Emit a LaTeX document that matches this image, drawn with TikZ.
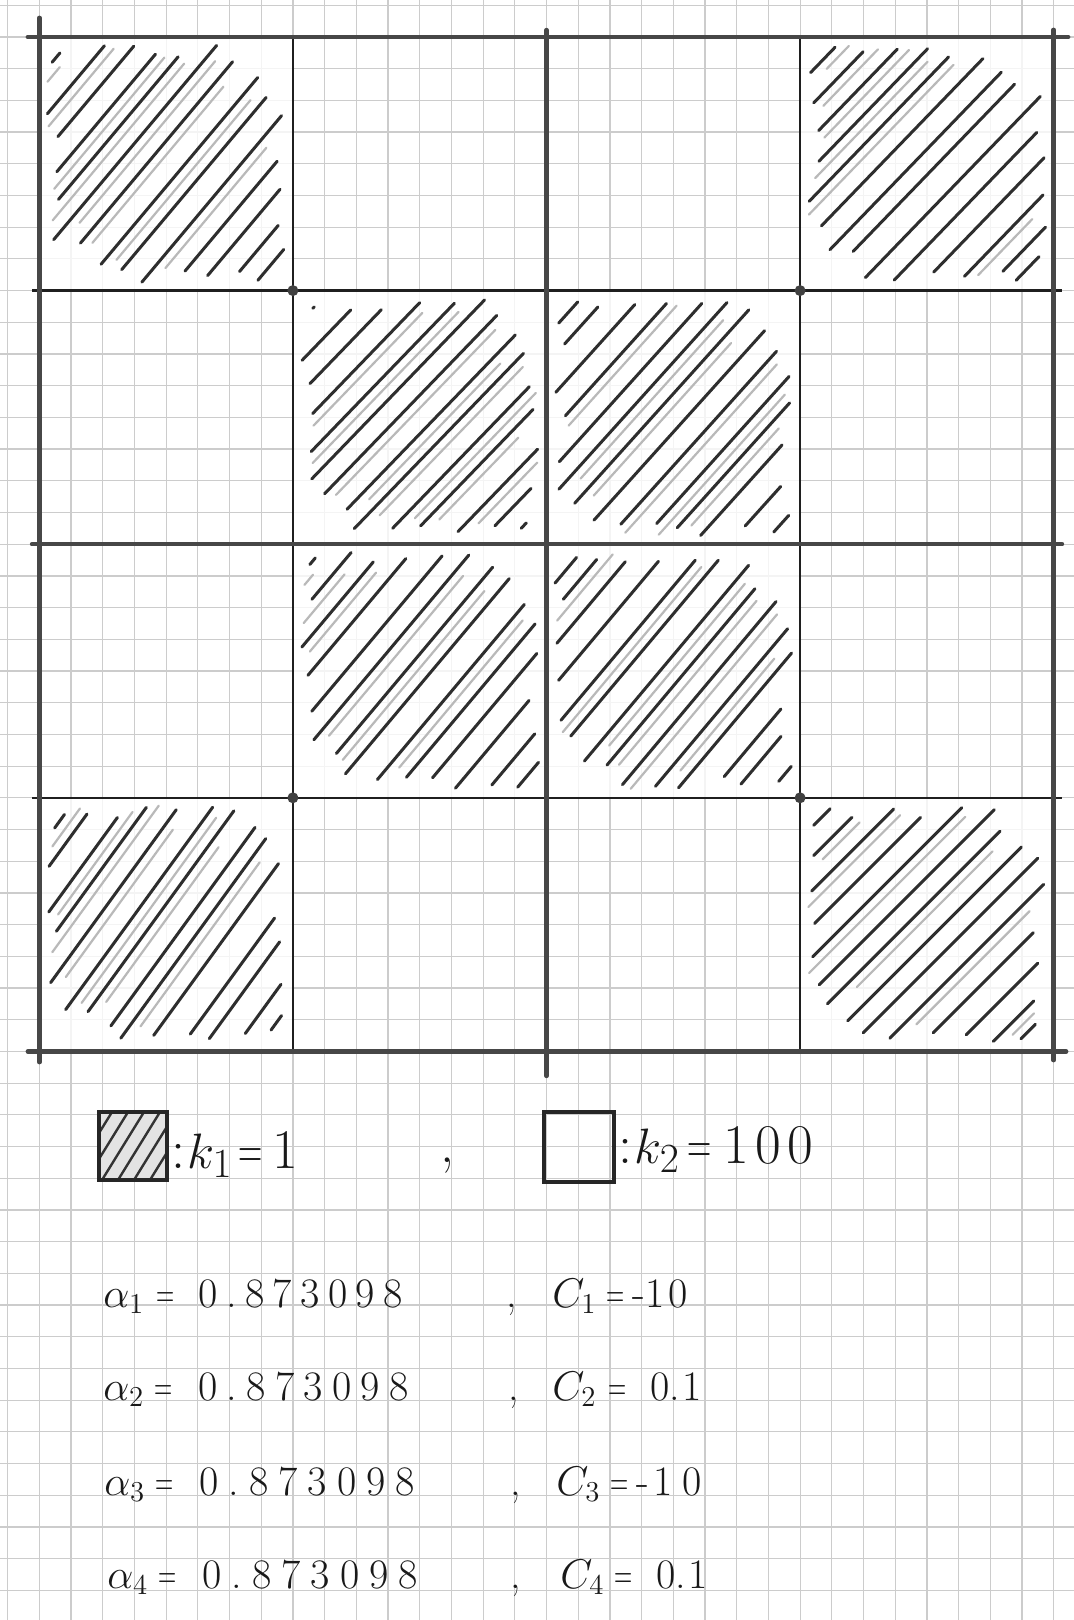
\documentclass[tikz,border=0pt]{standalone}
\usepackage{fontspec}
\usepackage{graphicx}
\usetikzlibrary{calc}
\newcommand\hweq{\scalebox{0.6}[1]{=}}
\newcommand\hnum[2]{% #1 gap, #2 unused
  \def\g{\hspace{#1}}0\g.\g8\g7\g3\g0\g9\g8}
\newcommand\hatchcell[3]{%
 \begin{scope}
  \fill[white,opacity=0.8] ({#1-126},{#2-126}) rectangle ({#1+126},{#2+126});
  \clip ({#1-124},{#2-124}) rectangle ({#1+124},{#2+124});
  \pgfmathsetmacro\hC{cos(#3)}
  \pgfmathsetmacro\hS{sin(#3)}
  \foreach \i in {0,...,13}{
    \pgfmathsetmacro\hT{-150+\i*23+4*rand}
    \pgfmathsetmacro\hA{max((-119-\hS*\hT)/\hC,(\hC*\hT-119)/\hS,-132)+18*rnd}
    \pgfmathsetmacro\hB{min((119-\hS*\hT)/\hC,(\hC*\hT+119)/\hS,132)-18*rnd}
    \ifdim\hA pt<\hB pt
      \draw[hatchdark] ({#1+\hT*\hS+\hA*\hC},{#2+\hT*\hC-\hA*\hS}) -- ({#1+\hT*\hS+\hB*\hC},{#2+\hT*\hC-\hB*\hS});
    \fi
    \pgfmathsetmacro\hG{rnd}
    \ifdim\hG pt>0.5pt
      \pgfmathsetmacro\hU{\hT+9}
      \pgfmathsetmacro\hA{max((-119-\hS*\hU)/\hC,(\hC*\hU-119)/\hS,-120)+30*rnd}
      \pgfmathsetmacro\hB{min((119-\hS*\hU)/\hC,(\hC*\hU+119)/\hS,120)-30*rnd}
      \ifdim\hA pt<\hB pt
        \draw[hatchgrey] ({#1+\hU*\hS+\hA*\hC},{#2+\hU*\hC-\hA*\hS}) -- ({#1+\hU*\hS+\hB*\hC},{#2+\hU*\hC-\hB*\hS});
      \fi
    \fi
  }
 \end{scope}}
\begin{document}
\begin{tikzpicture}[x=0.5pt,y=-0.5pt,
  paper/.style={draw=gray!40, line width=0.6pt},
  outerline/.style={draw=black!72, line width=2.4pt, line cap=round},
  midline/.style={draw=black!72, line width=2.2pt, line cap=round},
  innerline/.style={draw=black!88, line width=1.3pt},
  hatchdark/.style={draw=black!82, line width=1.5pt, line cap=round},
  hatchgrey/.style={draw=gray!55, line width=1.1pt, line cap=round},
  joint/.style={fill=black!75},
  hw/.style={font=\fontsize{21}{25}\selectfont, inner sep=0pt, anchor=base west, text=black!90},
  hwbig/.style={font=\fontsize{28}{33}\selectfont, inner sep=0pt, anchor=base west, text=black!90},
  legendbox/.style={draw=black!85, line width=1.6pt},
]
\pgfmathsetseed{12}
\useasboundingbox (0,0) rectangle (1074,1620);
\fill[white] (0,0) rectangle (1074,1620);
% paper grid
\foreach \k in {0,...,33} \draw[paper] ({7.6+31.7*\k},0) -- ({7.6+31.7*\k},1620);
\foreach \k in {0,...,50} \draw[paper] (0,{5.3+31.7*\k}) -- (1074,{5.3+31.7*\k});
% hatched cells
\foreach \ci/\rj/\ang in {0/0/50,3/0/46,1/1/46,2/1/48,1/2/50,2/2/50,0/3/54,3/3/45}{
  \pgfmathsetmacro\hX{39.3+253.6*(\ci+0.5)}
  \pgfmathsetmacro\hY{37+253.6*(\rj+0.5)}
  \hatchcell{\hX}{\hY}{\ang}
}
% inner lines
\draw[innerline] (292.9,37) -- (292.9,1051.4);
\draw[innerline] (800.1,37) -- (800.1,1051.4);
\draw[innerline] (32,290.6) -- (1062,290.6);
\draw[innerline] (32,797.8) -- (1062,797.8);
% middle lines
\draw[midline] (546.5,30) -- (546.5,1076);
\draw[midline] (32,544.2) -- (1062,544.2);
% outer border
\draw[outerline] (28,37) -- (1068,37);
\draw[outerline] (28,1051.4) -- (1066,1051.4);
\draw[outerline] (39.3,18) -- (39.3,1062);
\draw[outerline] (1053.7,30) -- (1053.7,1060);
% joints
\foreach \px/\py in {292.9/290.6,800.1/290.6,292.9/797.8,800.1/797.8}
  \fill[joint] (\px,\py) circle (5.5);
% legend hatched square
\fill[gray!22] (99,1112) rectangle (167,1180);
\begin{scope}
  \clip (99,1112) rectangle (167,1180);
  \foreach \lx in {70,86,102,118,134,150}
    \draw[black!80, line width=1.2pt] (\lx,1180) -- ({\lx+42},1112);
\end{scope}
\draw[legendbox] (99,1112) rectangle (167,1180);
\draw[legendbox] (544,1112) rectangle (614,1182);
% legend text
\node[hwbig] (k1) at (171,1168) {:\hspace{1pt}$k_{1}$\hspace{3pt}\hweq\hspace{5pt}1};
\node[hwbig] (lc) at (440,1162) {,};
\node[hwbig] (k2) at (618,1163) {:\hspace{1pt}$k_{2}$\hspace{4pt}\hweq\hspace{6pt}1\hspace{3pt}0\hspace{3pt}0};
% alpha rows
\node[hw] (a1) at (103,1307) {$\alpha_{1}$\hspace{6pt}\hweq\hspace{12pt}\hnum{4.2pt}{}};
\node[hw] (a2) at (103,1400) {$\alpha_{2}$\hspace{5pt}\hweq\hspace{13pt}\hnum{4.6pt}{}};
\node[hw] (a3) at (104,1495) {$\alpha_{3}$\hspace{5pt}\hweq\hspace{13pt}\hnum{5pt}{}};
\node[hw] (a4) at (107,1588) {$\alpha_{4}$\hspace{5pt}\hweq\hspace{13pt}\hnum{5pt}{}};
% commas
\node[hw] (m1) at (506,1307) {,};
\node[hw] (m2) at (508,1400) {,};
\node[hw] (m3) at (510,1495) {,};
\node[hw] (m4) at (510,1588) {,};
% C rows
\node[hw] (c1) at (552,1307) {$C_{1}$\hspace{5pt}\hweq\hspace{4pt}-1\hspace{2pt}0};
\node[hw] (c2) at (552,1400) {$C_{2}$\hspace{6pt}\hweq\hspace{12pt}0.\hspace{1pt}1};
\node[hw] (c3) at (556,1495) {$C_{3}$\hspace{5pt}\hweq\hspace{4pt}-\hspace{2pt}1\hspace{5pt}0};
\node[hw] (c4) at (560,1588) {$C_{4}$\hspace{5pt}\hweq\hspace{12pt}0.\hspace{1pt}1};
\end{tikzpicture}
\end{document}
